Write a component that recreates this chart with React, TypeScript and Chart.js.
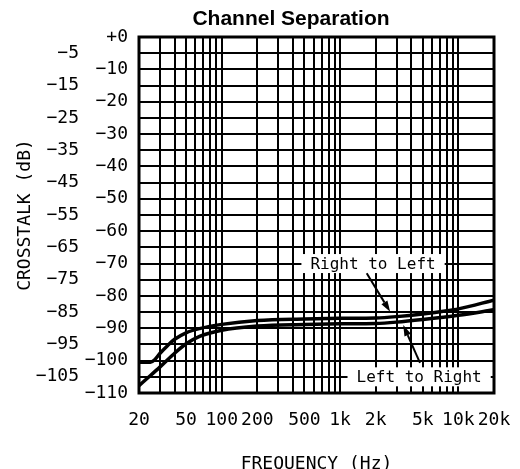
import React, { useEffect, useRef } from 'react';
import { Chart, registerables } from 'chart.js';

Chart.register(...registerables);

// ---- data ----
const freqRightToLeft = [20, 25, 27, 30, 35, 40, 50, 65, 100, 200, 500, 1000, 2000, 3000, 5000, 8000, 10000, 20000];
const dbRightToLeft = [-100.5, -100.5, -99.8, -97.8, -95.3, -93.4, -91.4, -90.1, -88.8, -87.6, -87.1, -86.9, -86.8, -86.4, -85.6, -84.6, -84.0, -81.3];

const freqLeftToRight = [20, 25, 30, 40, 50, 65, 100, 200, 500, 1000, 2000, 3000, 5000, 10000, 20000];
const dbLeftToRight = [-107.7, -104.6, -102, -97.7, -94.8, -92.5, -90.6, -89.3, -88.8, -88.6, -88.5, -88.1, -87.3, -86.0, -84.3];

const xGridValues = [20, 30, 40, 50, 60, 70, 80, 90, 100, 200, 300, 400, 500, 600, 700, 800, 900, 1000, 2000, 3000, 4000, 5000, 6000, 7000, 8000, 9000, 10000, 20000];
const xLabelValues = [20, 50, 100, 200, 500, 1000, 2000, 5000, 10000, 20000];
const xLabelTexts = ['20', '50', '100', '200', '500', '1k', '2k', '5k', '10k', '20k'];

const yGridValues = [0, -5, -10, -15, -20, -25, -30, -35, -40, -45, -50, -55, -60, -65, -70, -75, -80, -85, -90, -95, -100, -105, -110];
const yInnerLabelValues = [0, -10, -20, -30, -40, -50, -60, -70, -80, -90, -100, -110];
const yInnerLabelTexts = ['+0', '−10', '−20', '−30', '−40', '−50', '−60', '−70', '−80', '−90', '−100', '−110'];
const yOuterLabelValues = [-5, -15, -25, -35, -45, -55, -65, -75, -85, -95, -105];
const yOuterLabelTexts = ['−5', '−15', '−25', '−35', '−45', '−55', '−65', '−75', '−85', '−95', '−105'];

const annotationTexts = ['Right to Left', 'Left to Right'];
const annotationFreq = [1900, 4660];
const annotationDb = [-70, -105];
const arrowFromFreq = [1680, 4740];
const arrowFromDb = [-73.0, -100.7];
const arrowToFreq = [2650, 3420];
const arrowToDb = [-84.9, -89.0];

const TITLE = 'Channel Separation';
const FONT = 'DejaVu Sans Mono';

const pairs = (xs: number[], ys: number[]) => xs.map((x, i) => ({ x, y: ys[i] }));

export default function App() {
  const canvasRef = useRef<HTMLCanvasElement | null>(null);

  useEffect(() => {
    document.body.style.margin = '0';
    document.documentElement.style.overflow = 'hidden';
    const canvas = canvasRef.current;
    if (!canvas) return;

    const framePlugin = {
      id: 'frameAndNotes',
      beforeDatasetsDraw(chart: any) {
        const { ctx, chartArea: a, scales } = chart;
        ctx.save();
        ctx.strokeStyle = '#000';
        ctx.lineWidth = 3;
        ctx.strokeRect(a.left, a.top, a.right - a.left, a.bottom - a.top);
        ctx.font = `16px "${FONT}"`;
        ctx.textAlign = 'center';
        ctx.textBaseline = 'middle';
        annotationTexts.forEach((t, i) => {
          const cx = scales.x.getPixelForValue(annotationFreq[i]);
          const cy = scales.y.getPixelForValue(annotationDb[i]);
          const w = ctx.measureText(t).width;
          ctx.fillStyle = '#fff';
          ctx.fillRect(cx - w / 2 - 9, cy - 9.5, w + 18, 19);
          ctx.fillStyle = '#000';
          ctx.fillText(t, cx, cy + 1);
        });
        ctx.restore();
      },
      afterDatasetsDraw(chart: any) {
        const { ctx, scales } = chart;
        ctx.save();
        ctx.strokeStyle = '#000';
        ctx.fillStyle = '#000';
        ctx.lineWidth = 2;
        arrowFromFreq.forEach((_, i) => {
          const x1 = scales.x.getPixelForValue(arrowFromFreq[i]);
          const y1 = scales.y.getPixelForValue(arrowFromDb[i]);
          const x2 = scales.x.getPixelForValue(arrowToFreq[i]);
          const y2 = scales.y.getPixelForValue(arrowToDb[i]);
          const ang = Math.atan2(y2 - y1, x2 - x1);
          const len = 11;
          const hw = 3.5;
          const bx = x2 - len * Math.cos(ang);
          const by = y2 - len * Math.sin(ang);
          ctx.beginPath();
          ctx.moveTo(x1, y1);
          ctx.lineTo(bx, by);
          ctx.stroke();
          ctx.beginPath();
          ctx.moveTo(x2, y2);
          ctx.lineTo(bx + hw * Math.sin(ang), by - hw * Math.cos(ang));
          ctx.lineTo(bx - hw * Math.sin(ang), by + hw * Math.cos(ang));
          ctx.closePath();
          ctx.fill();
        });
        ctx.fillStyle = '#000';
        ctx.font = `bold 21px "Liberation Sans", Arial, sans-serif`;
        ctx.textAlign = 'center';
        ctx.textBaseline = 'alphabetic';
        ctx.fillText(TITLE, 291, 25);
        ctx.restore();
      },
    };

    const setTicks = (vals: number[]) => (scale: any) => {
      scale.ticks = vals.map((v) => ({ value: v }));
    };
    const labelFor = (vals: number[], texts: string[]) => (value: any) => {
      const i = vals.findIndex((v) => Math.abs(v - Number(value)) < 1e-6);
      return i >= 0 ? texts[i] : '';
    };

    const chart = new Chart(canvas, {
      type: 'line',
      data: {
        datasets: [
          {
            label: 'Right to Left',
            data: pairs(freqRightToLeft, dbRightToLeft),
            borderColor: '#000',
            borderWidth: 3.5,
            pointRadius: 0,
            cubicInterpolationMode: 'monotone',
            fill: false,
          },
          {
            label: 'Left to Right',
            data: pairs(freqLeftToRight, dbLeftToRight),
            borderColor: '#000',
            borderWidth: 3.5,
            pointRadius: 0,
            cubicInterpolationMode: 'monotone',
            fill: false,
          },
        ],
      },
      options: {
        animation: false,
        responsive: false,
        devicePixelRatio: 1,
        layout: { padding: { top: 37, right: 26, left: 0, bottom: 0 } },
        plugins: { legend: { display: false }, title: { display: false }, tooltip: { enabled: false } },
        scales: {
          x: {
            type: 'logarithmic',
            min: 20,
            max: 20000,
            afterBuildTicks: setTicks(xGridValues),
            afterFit: (s: any) => { s.height = 92; s.paddingLeft = 0; s.paddingRight = 0; },
            grid: { color: '#000', lineWidth: 2, drawTicks: false },
            border: { display: false },
            ticks: {
              autoSkip: false,
              maxRotation: 0,
              padding: 17,
              color: '#000',
              font: { family: FONT, size: 18 },
              callback: labelFor(xLabelValues, xLabelTexts),
            },
            title: {
              display: true,
              text: 'FREQUENCY (Hz)',
              color: '#000',
              font: { family: FONT, size: 18 },
              padding: { top: 0, bottom: 10 },
            },
          },
          y: {
            type: 'linear',
            position: 'left',
            weight: 0,
            min: -110,
            max: 0,
            afterBuildTicks: setTicks(yGridValues),
            afterFit: (s: any) => { s.width = 59; s.paddingTop = 0; s.paddingBottom = 0; },
            grid: { color: '#000', lineWidth: 2, drawTicks: false },
            border: { display: false },
            ticks: {
              autoSkip: false,
              padding: 11,
              color: '#000',
              font: { family: FONT, size: 18 },
              callback: labelFor(yInnerLabelValues, yInnerLabelTexts),
            },
          },
          y2: {
            type: 'linear',
            position: 'left',
            weight: 1,
            min: -110,
            max: 0,
            afterBuildTicks: setTicks(yGridValues),
            afterFit: (s: any) => { s.width = 80; s.paddingTop = 0; s.paddingBottom = 0; },
            grid: { display: false, drawTicks: false },
            border: { display: false },
            ticks: {
              autoSkip: false,
              padding: 1,
              color: '#000',
              font: { family: FONT, size: 18 },
              callback: labelFor(yOuterLabelValues, yOuterLabelTexts),
            },
            title: {
              display: true,
              text: 'CROSSTALK (dB)',
              color: '#000',
              font: { family: FONT, size: 18 },
              padding: { top: 15, bottom: 0 },
            },
          },
        },
      } as any,
      plugins: [framePlugin],
    });

    return () => chart.destroy();
  }, []);

  return (
    <div style={{ width: 520, height: 469, overflow: 'hidden', background: '#fff' }}>
      <canvas ref={canvasRef} width={520} height={485} style={{ display: 'block' }} />
    </div>
  );
}
